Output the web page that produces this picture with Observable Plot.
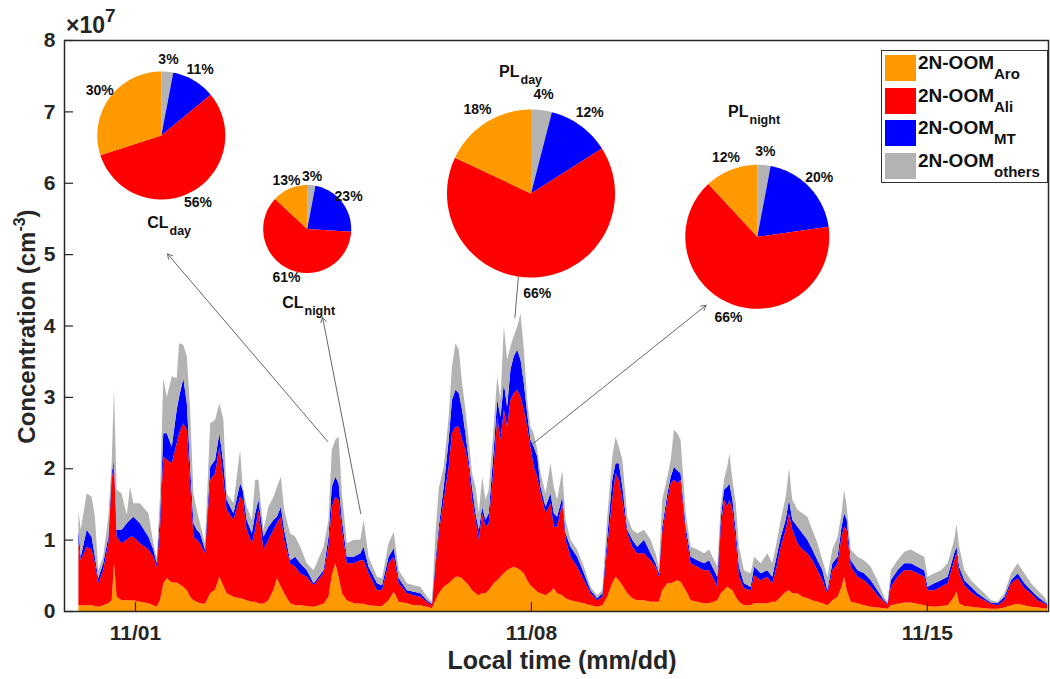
<!DOCTYPE html>
<html><head><meta charset="utf-8">
<script src="https://cdn.jsdelivr.net/npm/d3@7"></script>
<script src="https://cdn.jsdelivr.net/npm/@observablehq/plot@0.6"></script>
<style>
body{margin:0;background:#fff;}
#chart{position:relative;width:1050px;height:679px;font-family:"Liberation Sans",Arial,Helvetica,sans-serif;color:#262626;}
.ov{position:absolute;font-weight:bold;white-space:nowrap;}
</style></head><body><div id="chart"></div>
<script>
// ---- time series (hours since 10/31 00:00), stacked tops in units of 1e7 cm^-3 ----
const hours = [0.0,1.0,3.5,5.6,7.0,8.4,10.5,12.7,14.1,15.1,16.2,18.3,20.5,21.9,23.3,26.1,29.7,31.8,33.2,34.6,36.0,37.5,39.6,41.7,42.7,44.5,46.0,47.4,48.8,50.2,51.6,53.7,55.9,58.0,59.8,61.5,62.9,65.8,68.6,69.7,71.4,73.6,75.0,76.4,78.5,80.6,82.8,84.2,85.9,87.3,89.8,92.0,94.1,96.9,99.8,104.0,106.1,107.5,109.0,110.4,111.8,113.9,116.8,119.6,121.0,123.1,126.7,128.8,131.6,
133.8,135.9,139.4,142.3,145.1,147.9,150.0,151.5,152.9,155.0,157.1,158.5,160.0,161.4,162.8,164.2,165.6,167.0,168.5,169.9,171.3,172.7,174.1,176.2,177.7,179.1,180.5,181.9,183.3,184.7,186.2,187.6,189.0,190.4,191.8,193.2,194.7,196.1,198.2,200.3,201.7,203.1,205.3,206.7,208.8,211.6,214.5,217.3,220.1,222.3,224.4,226.5,227.9,229.3,230.8,232.9,235.0,237.1,240.0,242.8,244.9,246.3,247.7,249.9,251.3,252.7,254.1,255.5,257.7,259.8,262.6,265.5,267.6,
271.1,272.5,273.9,275.3,276.2,277.5,278.9,280.3,282.4,285.2,286.7,289.5,292.3,294.4,295.9,298.0,300.1,301.5,302.9,305.1,307.2,309.3,311.4,313.6,315.7,317.8,319.9,322.1,323.8,324.9,326.0,327.7,330.6,333.4,336.2,339.0,341.9,343.3,344.7,347.5,350.4,353.2,356.0,358.9,360.3,363.1,366.0,368.8,371.6,372.6,373.7,375.9,378.7,381.5,384.4,387.2,390.0,392.9,395.7,398.5,401.4,404.2,407.0,409.8,411.0];
const aroTop = [.08,.08,.08,.08,.07,.06,.08,.11,.15,.67,.20,.15,.15,.15,.15,.13,.11,.08,.06,.15,.39,.46,.40,.40,.38,.34,.29,.20,.15,.13,.11,.10,.25,.30,.48,.35,.25,.20,.18,.17,.15,.13,.13,.11,.10,.15,.30,.46,.34,.25,.11,.08,.08,.07,.06,.10,.20,.50,.67,.48,.25,.15,.11,.10,.10,.08,.07,.07,.15,
.27,.13,.11,.08,.08,.06,.04,.15,.25,.34,.39,.43,.48,.48,.46,.41,.36,.29,.25,.22,.25,.25,.29,.39,.43,.48,.53,.57,.60,.62,.60,.57,.53,.43,.36,.32,.27,.25,.22,.27,.32,.25,.22,.18,.15,.13,.11,.08,.06,.08,.20,.39,.48,.43,.36,.25,.18,.15,.15,.13,.13,.13,.29,.39,.39,.41,.43,.41,.29,.15,.13,.11,.11,
.15,.25,.29,.34,.32,.29,.20,.13,.08,.08,.11,.11,.11,.13,.13,.20,.27,.29,.25,.25,.20,.18,.15,.13,.11,.08,.15,.20,.34,.48,.29,.13,.11,.08,.06,.05,.04,.03,.08,.10,.12,.12,.10,.08,.07,.06,.07,.08,.20,.27,.11,.07,.06,.05,.04,.03,.03,.05,.08,.10,.08,.06,.05,.04,.03];
const aliTop = [.95,.71,.90,.86,.67,.39,.57,.95,1.84,2.07,1.04,.95,1.00,1.04,1.04,.95,.86,.76,.62,1.14,2.16,2.12,2.07,2.35,2.49,2.63,2.54,1.79,1.04,1.00,.95,.81,1.84,1.93,2.30,1.84,1.42,1.28,1.60,1.56,1.14,.95,1.14,1.42,.86,1.00,1.14,1.23,1.32,1.00,.67,.62,.53,.48,.36,.53,.90,1.46,1.60,1.56,1.14,.67,.67,.71,.71,.53,.29,.29,.67,
.76,.39,.25,.22,.20,.13,.08,.62,1.09,1.56,2.02,2.49,2.58,2.58,2.40,2.26,2.02,1.56,1.28,1.00,1.37,1.18,1.23,2.02,2.72,2.40,2.82,2.58,2.96,3.05,3.10,3.00,2.82,2.58,2.30,2.02,1.88,1.65,1.37,1.51,1.18,1.18,1.51,1.00,.76,.62,.43,.25,.15,.20,.90,1.56,1.93,1.84,1.56,1.09,.90,.81,.81,.71,.62,.48,1.09,1.56,1.79,1.84,1.79,1.84,1.09,.67,.62,.57,.57,
.34,1.14,1.56,1.46,1.56,1.42,1.00,.48,.32,.29,.50,.43,.48,.39,.57,.90,1.14,1.37,1.14,.95,.86,.81,.71,.57,.43,.25,.57,.67,1.04,1.18,1.14,.62,.48,.43,.34,.22,.13,.09,.34,.48,.57,.57,.53,.48,.29,.29,.34,.39,.71,.81,.53,.36,.27,.20,.15,.10,.08,.15,.39,.46,.32,.25,.15,.11,.08];
const mtTop = [1.13,.76,1.14,1.04,.76,.46,.67,1.04,1.93,2.12,1.14,1.14,1.23,1.28,1.32,1.23,1.04,.86,.67,1.32,2.49,2.49,2.30,2.82,3.00,3.26,2.91,2.02,1.23,1.14,1.09,.86,2.02,2.12,2.49,2.07,1.56,1.37,1.79,1.70,1.28,1.09,1.37,1.56,1.04,1.18,1.28,1.32,1.46,1.14,.71,.76,.67,.57,.39,.57,1.04,1.74,1.88,1.79,1.28,.76,.76,.81,.90,.62,.39,.36,.76,
.88,.46,.29,.27,.25,.15,.10,.71,1.18,1.74,2.40,2.96,3.10,3.05,2.82,2.49,2.12,1.74,1.37,1.14,1.46,1.28,1.37,2.26,2.96,2.72,3.19,2.86,3.38,3.57,3.66,3.52,3.19,2.77,2.40,2.30,2.16,1.74,1.46,1.65,1.37,1.32,1.60,1.09,.90,.76,.53,.29,.18,.25,1.04,1.84,2.07,2.07,1.74,1.14,1.00,.90,1.00,.81,.67,.53,1.18,1.65,1.88,2.02,1.97,1.93,1.18,.76,.71,.67,.71,
.48,1.28,1.70,1.74,1.79,1.56,1.14,.62,.39,.34,.62,.53,.57,.48,.71,1.04,1.28,1.56,1.28,1.18,1.09,1.00,.86,.71,.57,.29,.67,.76,1.18,1.37,1.28,.71,.57,.53,.43,.29,.15,.11,.43,.57,.67,.67,.62,.57,.34,.39,.43,.48,.81,.90,.62,.43,.34,.25,.18,.12,.11,.20,.43,.53,.39,.29,.20,.13,.10];
const othersTop = [1.39,1.14,1.65,1.60,1.32,.57,.76,1.32,2.07,3.12,1.70,1.65,1.35,1.74,1.51,1.51,1.37,.95,.74,1.60,3.26,3.00,3.29,3.26,3.75,3.73,3.57,2.82,1.65,1.42,1.23,.95,2.63,2.68,2.91,2.68,1.65,1.51,2.26,1.74,1.46,1.28,1.84,1.84,1.14,1.46,1.60,1.74,1.88,1.42,1.09,1.04,.90,.67,.57,.90,1.28,2.26,2.40,2.44,1.65,.95,1.00,1.00,1.28,.76,.48,.46,.95,
1.11,.57,.39,.36,.34,.20,.13,1.09,1.72,2.02,2.72,3.43,3.75,3.66,3.19,2.82,2.40,1.93,1.74,1.37,1.88,1.56,1.70,2.58,3.29,2.96,3.99,3.52,3.71,3.85,3.99,4.17,3.66,2.96,2.58,2.49,2.26,1.93,1.65,2.07,1.74,1.56,1.97,1.28,1.00,.86,.62,.34,.22,.29,1.32,2.16,2.44,2.30,2.12,1.32,1.14,1.09,1.14,1.00,.81,.62,1.56,1.88,2.12,2.54,2.49,2.40,1.37,.90,.86,.81,.86,
.62,1.46,1.84,2.02,2.21,1.84,1.51,.90,.57,.53,.76,.67,.81,.67,.90,1.28,1.60,2.00,1.56,1.42,1.37,1.32,1.14,.95,.71,.48,.86,1.04,1.37,1.70,1.46,.86,.76,.71,.62,.43,.20,.13,.57,.71,.83,.86,.81,.76,.48,.53,.57,.67,1.00,1.22,.90,.57,.43,.34,.25,.15,.13,.25,.53,.67,.53,.39,.29,.20,.13];

const seriesNames = ["Aro","Ali","MT","others"];
const seriesColors = ["#ff9900","#ff0000","#0000ff","#b3b3b3"];
const yTicks = [0,1,2,3,4,5,6,7,8];
const xTickDays = ["2018-11-01","2018-11-08","2018-11-15"];

// ---- pie insets (percent shares) ----
const pieMain = ["CL","CL","PL","PL"];
const pieSub = ["day","night","day","night"];
const pieAro = [30,13,18,12];
const pieAli = [56,61,66,66];
const pieMT = [11,23,12,20];
const pieOthers = [3,3,4,3];

// ---- arrows (hours, value) from data to pies ----
const arrowFromH = [105.6,119.6,185.0,192.6];
const arrowFromV = [2.38,1.37,4.12,2.35];
const arrowToH = [37.6,103.4,186.7,266.1];
const arrowToV = [5.01,4.12,4.78,4.29];

// ---- layout (pixels) ----
const W = 1050, H = 679, ML = 64, MR = 2, MTp = 40, MB = 68;
const pieCX = [160.8,306.7,530.5,756.8], pieCY = [135,228.5,193,236.3], pieR = [64,44,84,72];
const titleX = [168,303,519,748], titleY = [222,302,71,111];

const BASE = Date.UTC(2018,9,31);
const toDate = h => new Date(BASE + h*3600e3);
const xDomain = [toDate(-6.12), toDate(411.4)];
const xs = d3.scaleUtc(xDomain, [ML, W-MR]);
const ys = d3.scaleLinear([0,8], [H-MB, MTp]);

// area rows
const tops = [aroTop, aliTop, mtTop, othersTop];
const areaRows = [];
hours.forEach((h,i) => {
  let lo = 0;
  seriesNames.forEach((s,k) => {
    const hi = tops[k][i];
    areaRows.push({date: toDate(h), lo, hi, series: s});
    lo = hi;
  });
});

// pie slices
const sliceOrder = [["others",pieOthers],["MT",pieMT],["Ali",pieAli],["Aro",pieAro]];
const pieRows = [], pctRows = [];
for (let p = 0; p < 4; p++) {
  const total = sliceOrder.reduce((a,[,v]) => a + v[p], 0);
  let start = 0;
  const cx = pieCX[p], cy = pieCY[p], r = pieR[p];
  for (const [name, vals] of sliceOrder) {
    const f = vals[p] / total;
    const a0 = start*2*Math.PI, a1 = (start+f)*2*Math.PI;
    const id = p + "-" + name;
    pieRows.push({x: xs.invert(cx), y: ys.invert(cy), id, series: name});
    const n = Math.max(2, Math.ceil((a1-a0)/(Math.PI/90)));
    for (let j = 0; j <= n; j++) {
      const a = a0 + (a1-a0)*j/n;
      pieRows.push({x: xs.invert(cx + r*Math.sin(a)), y: ys.invert(cy - r*Math.cos(a)), id, series: name});
    }
    const am = (a0+a1)/2, d = 1.19*r;
    pctRows.push({x: xs.invert(cx + d*Math.sin(am)), y: ys.invert(cy - d*Math.cos(am)), text: vals[p] + "%"});
    start += f;
  }
}
const titleRows = pieMain.map((m,p) => ({x: xs.invert(titleX[p]), y: ys.invert(titleY[p]), main: m, sub: pieSub[p]}));
const arrowRows = arrowFromH.map((h,i) => ({x1: toDate(h), y1: arrowFromV[i], x2: toDate(arrowToH[i]), y2: arrowToV[i]}));

const chart = Plot.plot({
  width: W, height: H,
  marginLeft: ML, marginRight: MR, marginTop: MTp, marginBottom: MB,
  style: {fontFamily: '"Liberation Sans", Arial, Helvetica, sans-serif', fontSize: "21px", fontWeight: "bold", color: "#262626", background: "transparent", overflow: "visible"},
  x: {type: "utc", domain: xDomain, ticks: xTickDays.map(d => new Date(d)), tickFormat: d3.utcFormat("%m/%d"), tickSize: 0, tickPadding: 14, label: null},
  y: {domain: [0,8], ticks: yTicks, tickFormat: d => String(d), tickSize: 0, tickPadding: 9, label: null},
  color: {domain: seriesNames, range: seriesColors},
  marks: [
    Plot.areaY(areaRows, {x: "date", y1: "lo", y2: "hi", fill: "series", z: "series"}),
    Plot.tickY(yTicks, {y: d => d, stroke: "#262626", strokeWidth: 1.2, insetRight: (W-ML-MR) - 9}),
    Plot.tickX(xTickDays.map(d => new Date(d)), {x: d => d, stroke: "#262626", strokeWidth: 1.2, insetTop: (H-MB-MTp) - 9}),
    Plot.frame({stroke: "#262626", strokeWidth: 1.5}),
    Plot.arrow(arrowRows, {x1: "x1", y1: "y1", x2: "x2", y2: "y2", stroke: "#555", strokeWidth: 0.9, headLength: 9}),
    Plot.line(pieRows, {x: "x", y: "y", z: "id", fill: "series", stroke: "none"}),
    Plot.text(pctRows, {x: "x", y: "y", text: "text", fontSize: 14, fontWeight: "bold", fill: "#111"}),
    Plot.text(titleRows, {x: "x", y: "y", text: "main", textAnchor: "end", fontSize: 16, fontWeight: "bold", fill: "#111"}),
    Plot.text(titleRows, {x: "x", y: "y", text: "sub", textAnchor: "start", dy: 8, dx: 1, fontSize: 12.5, fontWeight: "bold", fill: "#111"})
  ]
});
const root = document.getElementById("chart");
root.appendChild(chart);

// overlay texts: exponent, axis titles, legend
function ov(html, css) { const d = document.createElement("div"); d.className = "ov"; d.innerHTML = html; d.style.cssText += css; root.appendChild(d); return d; }
ov('×10<span style="font-size:19px;position:relative;top:-11px">7</span>', "left:66px;top:14px;font-size:23px;line-height:23px;");
ov('Concentration (cm<span style="font-size:16px;position:relative;top:-10px">-3</span>)', "left:-172px;top:313px;width:400px;text-align:center;font-size:24px;line-height:24px;transform:rotate(-90deg);");
ov('Local time (mm/dd)', "left:362px;top:648px;width:400px;text-align:center;font-size:25px;line-height:25px;");
const leg = ov('', "left:881px;top:50px;width:167px;height:133px;border:1.5px solid #333;box-sizing:border-box;background:#fff;");
seriesNames.forEach((s,i) => {
  const sw = document.createElement("div");
  sw.style.cssText = `position:absolute;left:3px;top:${4+i*32.6}px;width:31px;height:26px;background:${seriesColors[i]};`;
  leg.appendChild(sw);
  const t = document.createElement("div");
  t.style.cssText = `position:absolute;left:36px;top:${2+i*32.6}px;font-size:19px;line-height:19px;color:#111;`;
  t.innerHTML = `2N-OOM<span style="font-size:15px;position:relative;top:10px">${s}</span>`;
  leg.appendChild(t);
});
</script></body></html>
